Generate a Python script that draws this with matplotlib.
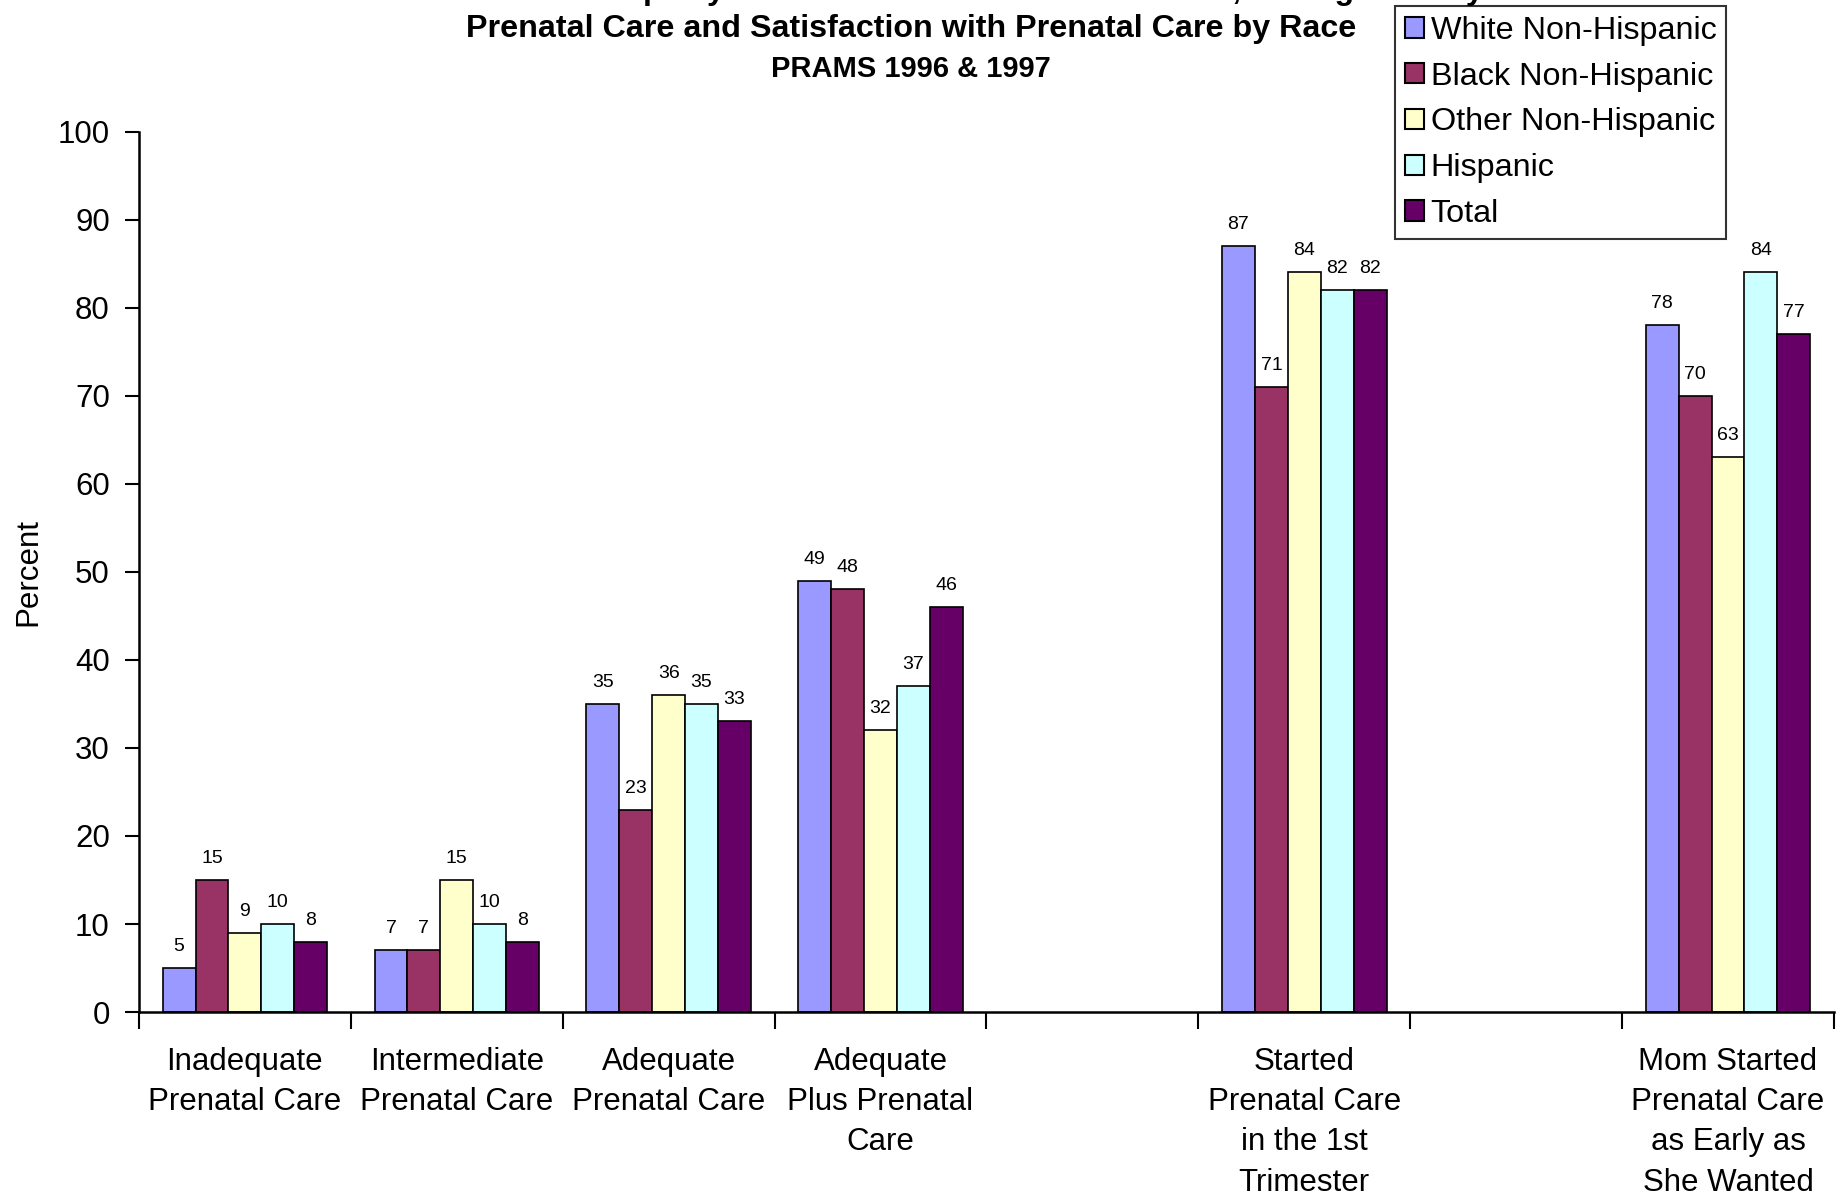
import numpy as np
import matplotlib
matplotlib.use("Agg")
import matplotlib.pyplot as plt
from matplotlib.patches import Patch

plt.rcParams['font.family'] = ['Liberation Sans', 'DejaVu Sans']

categories = ["Inadequate\nPrenatal Care", "Intermediate\nPrenatal Care", "Adequate\nPrenatal Care",
              "Adequate\nPlus Prenatal\nCare", "", "Started\nPrenatal Care\nin the 1st\nTrimester", "",
              "Mom Started\nPrenatal Care\nas Early as\nShe Wanted"]
series_names = ["White Non-Hispanic", "Black Non-Hispanic", "Other Non-Hispanic", "Hispanic", "Total"]
white = [5, 7, 35, 49, np.nan, 87, np.nan, 78]
black = [15, 7, 23, 48, np.nan, 71, np.nan, 70]
other = [9, 15, 36, 32, np.nan, 84, np.nan, 63]
hispanic = [10, 10, 35, 37, np.nan, 82, np.nan, 84]
total = [8, 8, 33, 46, np.nan, 82, np.nan, 77]
colors = ["#9999FF", "#993366", "#FFFFCC", "#CCFFFF", "#660066"]
yticks = [0, 10, 20, 30, 40, 50, 60, 70, 80, 90, 100]

fig = plt.figure(figsize=(18.43, 11.96), dpi=100)
ax = fig.add_axes([0.0754, 0.1538, 0.9951 - 0.0754, 0.890 - 0.1538])

x = np.arange(len(categories))
bw = 0.1553
allv = [white, black, other, hispanic, total]
for i, (vals, c, name) in enumerate(zip(allv, colors, series_names)):
    pos = x + (i - 2) * bw
    v = np.array(vals, dtype=float)
    ax.bar(pos, v, width=bw, color=c, edgecolor='black', linewidth=1.2, label=name)
    for px, pv in zip(pos, v):
        if not np.isnan(pv):
            ax.annotate(f"{int(pv)}", (px, pv), xytext=(0, 13), textcoords='offset pixels',
                        ha='center', va='bottom', fontsize=14)

ax.set_xlim(-0.5, len(categories) - 0.5)
ax.set_ylim(0, 100)
ax.set_yticks(yticks)
ax.set_yticklabels([str(t) for t in yticks], fontsize=22.5)
ax.tick_params(axis='y', direction='out', length=10, width=1.5, pad=11)
ax.set_xticks(x)
ax.set_xticklabels(categories, fontsize=22.5, linespacing=1.45, va='top')
ax.tick_params(axis='x', which='major', length=0, pad=25)
ax.set_xticks(np.arange(-0.5, len(categories)), minor=True)
ax.tick_params(axis='x', which='minor', direction='out', length=12, width=1.5)
for s in ['top', 'right']:
    ax.spines[s].set_visible(False)
for s in ['left', 'bottom']:
    ax.spines[s].set_linewidth(1.8)
ax.set_ylabel("Percent", fontsize=22.5, labelpad=10)

fig.text(572 / 1843, 1 + 1 / 1196, "Adequacy of Prenatal Care Utilization Index, Timing of Entry into",
         ha='left', va='baseline', fontsize=23, fontweight='bold')
fig.text(911 / 1843, 1 - 29 / 1196, "Prenatal Care and Satisfaction with Prenatal Care by Race",
         ha='center', va='center', fontsize=23.2, fontweight='bold')
fig.text(911 / 1843, 1 - 69 / 1196, "PRAMS 1996 & 1997",
         ha='center', va='center', fontsize=21, fontweight='bold')

handles = [Patch(facecolor=c, edgecolor='black', linewidth=1.5) for c in colors]
leg = fig.legend(handles, series_names, loc='upper left', bbox_to_anchor=(1395 / 1843, 1 - 6 / 1196),
                 fontsize=23.3, frameon=True, fancybox=False, borderaxespad=0,
                 handlelength=0.6, handleheight=0.6, handletextpad=0.2, labelspacing=0.49,
                 borderpad=0.3)
leg.get_frame().set_edgecolor('black')
leg.get_frame().set_linewidth(1.5)

fig.savefig("out.png", dpi=100)
